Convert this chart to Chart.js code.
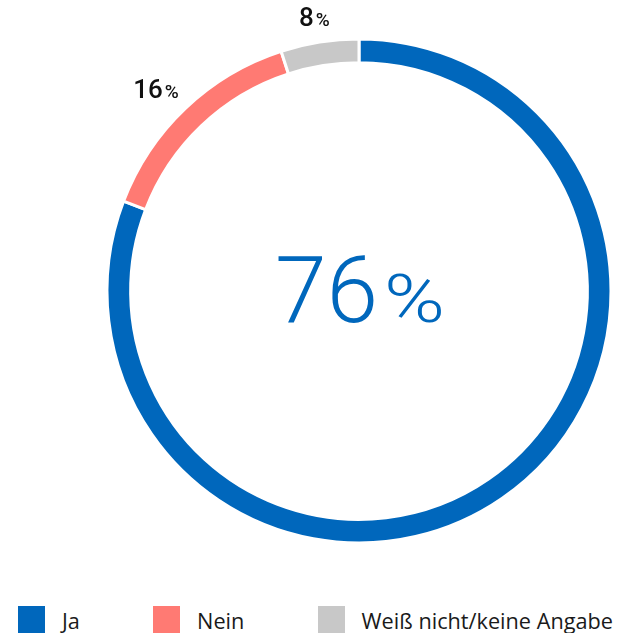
<!DOCTYPE html>
<html>
<head>
<meta charset="utf-8">
<script src="https://cdn.jsdelivr.net/npm/chart.js@4"></script>
<style>
  body { margin: 0; background: #fff; font-family: "Open Sans", sans-serif; }
  #wrap { position: relative; width: 618px; height: 633px; overflow: hidden; }
  #box { position: absolute; left: 0; top: 0; width: 618px; height: 590px; }
  #legend { position: absolute; left: 18px; right: 5px; top: 606px; display: flex; justify-content: space-between; }
  .item { display: flex; align-items: flex-start; }
  .sw { width: 27px; height: 27px; margin-right: 17px; }
  .tx { font-size: 21.7px; color: #1a1a1a; line-height: 27px; margin-top: 1px; }
</style>
</head>
<body>
<div id="wrap">
  <div id="box"><canvas id="c"></canvas></div>
  <div id="legend"></div>
</div>
<script>
// answer categories
const labels = ['Ja', 'Nein', 'Weiß nicht/keine Angabe'];
// arc shares as drawn in the picture (degrees / 3.6)
const arcShares = [80.8, 14.2, 5.0];
// percentages printed on the chart
const shownPercents = [76, 16, 8];
const colors = ['#0067bc', '#ff7a73', '#c8c8c8'];

// labels outside the ring (the first one sits big in the middle)
const outerLabels = {
    id: 'outerLabels',
    afterDraw(chart) {
        const ctx = chart.ctx;
        const arcs = chart.getDatasetMeta(0).data;
        ctx.save();
        ctx.fillStyle = '#111';
        ctx.textBaseline = 'middle';
        ctx.textAlign = 'left';
        arcs.forEach((arc, i) => {
            if (i === 0) return;
            const a = (arc.startAngle + arc.endAngle) / 2;
            const num = String(shownPercents[i]);
            ctx.font = '500 26px Roboto';
            const w1 = ctx.measureText(num).width;
            ctx.font = '500 19px Roboto';
            const w2 = ctx.measureText('%').width;
            const w = w1 + w2 + 2;
            const r = arc.outerRadius + 13;
            const cx = arc.x + (r + w * 0.65) * Math.cos(a);
            const cy = arc.y + (r + 10) * Math.sin(a);
            const left = cx - w / 2;
            ctx.font = '500 26px Roboto';
            ctx.fillText(num, left, cy);
            ctx.font = '500 19px Roboto';
            ctx.fillText('%', left + w1 + 2, cy + 2);
        });

        // big number in the centre
        const arc0 = arcs[0];
        const num = String(shownPercents[0]);
        const sx = 1.25;
        ctx.fillStyle = colors[0];
        ctx.textBaseline = 'alphabetic';
        ctx.font = '300 93px Roboto';
        const w1 = ctx.measureText(num).width;
        ctx.font = '300 66px Roboto';
        const w2 = ctx.measureText('%').width * sx;
        const gap = 6;
        const left = arc0.x + 1 - (w1 + w2 + gap) / 2;
        const base = arc0.y + 31;
        ctx.font = '300 93px Roboto';
        ctx.fillText(num, left, base);
        ctx.save();
        ctx.translate(left + w1 + gap, base);
        ctx.scale(sx, 1);
        ctx.font = '300 66px Roboto';
        ctx.fillText('%', 0, 0);
        ctx.restore();
        ctx.restore();
    }
};

const chart = new Chart(document.getElementById('c'), {
    type: 'doughnut',
    data: {
        labels: labels,
        datasets: [{
            data: arcShares,
            backgroundColor: colors,
            borderColor: '#fff',
            borderWidth: 3,
            hoverOffset: 0
        }]
    },
    options: {
        responsive: true,
        maintainAspectRatio: false,
        animation: false,
        radius: 252,
        cutout: 227,
        layout: { padding: { left: 100, right: 0, top: 39, bottom: 47 } },
        plugins: {
            legend: { display: false },
            tooltip: { enabled: false }
        }
    },
    plugins: [outerLabels]
});

// html legend built from the same arrays
const legend = document.getElementById('legend');
labels.forEach((l, i) => {
    const item = document.createElement('div');
    item.className = 'item';
    item.innerHTML = '<div class="sw" style="background:' + colors[i] + '"></div><div class="tx">' + l + '</div>';
    legend.appendChild(item);
});
</script>
</body>
</html>
